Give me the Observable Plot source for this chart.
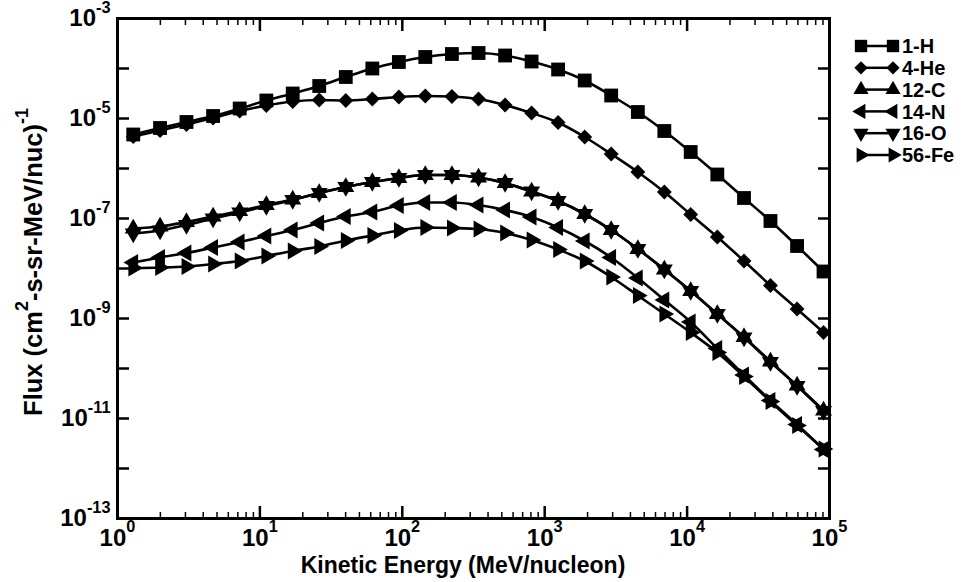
<!DOCTYPE html>
<html><head><meta charset="utf-8">
<script src="https://cdn.jsdelivr.net/npm/d3@7"></script>
<script src="https://cdn.jsdelivr.net/npm/@observablehq/plot@0.6"></script>
<style>
body{margin:0;background:#fff}
#chart{position:relative;width:970px;height:582px}
svg{font-family:"Liberation Sans",Arial,Helvetica,sans-serif}
</style>
</head><body><div id="chart"></div>
<script>
// Kinetic energy grid (MeV/nucleon)
const energy = [1.29, 1.99, 3.05, 4.69, 7.21, 11.1, 17.0, 26.1, 40.1, 61.6, 94.6, 145, 223, 343, 527, 809, 1242, 1910, 2930, 4510, 6920, 10600, 16300, 25100, 38500, 59200, 90800];
const species = ["1-H", "4-He", "12-C", "14-N", "16-O", "56-Fe"];
// log10 of flux
const logH  = [-5.32,-5.19,-5.07,-4.95,-4.80,-4.64,-4.50,-4.35,-4.17,-4.00,-3.87,-3.77,-3.71,-3.69,-3.74,-3.86,-4.02,-4.24,-4.54,-4.87,-5.25,-5.67,-6.12,-6.59,-7.05,-7.55,-8.06];
const logHe = [-5.36,-5.24,-5.12,-4.99,-4.85,-4.74,-4.66,-4.63,-4.64,-4.61,-4.57,-4.55,-4.56,-4.61,-4.73,-4.89,-5.08,-5.37,-5.71,-6.07,-6.47,-6.92,-7.37,-7.85,-8.34,-8.81,-9.28];
const logC  = [-7.20,-7.16,-7.07,-6.96,-6.85,-6.73,-6.62,-6.49,-6.37,-6.27,-6.19,-6.13,-6.13,-6.18,-6.29,-6.46,-6.65,-6.91,-7.23,-7.61,-8.02,-8.45,-8.91,-9.37,-9.86,-10.34,-10.84];
const logN  = [-7.88,-7.78,-7.69,-7.58,-7.47,-7.35,-7.23,-7.09,-6.96,-6.87,-6.74,-6.68,-6.68,-6.73,-6.83,-6.97,-7.18,-7.45,-7.78,-8.19,-8.63,-9.07,-9.60,-10.13,-10.64,-11.12,-11.62];
const logO  = [-7.30,-7.24,-7.13,-7.00,-6.88,-6.75,-6.63,-6.49,-6.37,-6.27,-6.19,-6.13,-6.13,-6.18,-6.29,-6.46,-6.65,-6.91,-7.23,-7.61,-8.02,-8.45,-8.91,-9.38,-9.87,-10.35,-10.85];
const logFe = [-7.99,-7.98,-7.96,-7.91,-7.85,-7.75,-7.65,-7.56,-7.44,-7.34,-7.24,-7.18,-7.19,-7.21,-7.29,-7.43,-7.62,-7.85,-8.17,-8.54,-8.91,-9.28,-9.68,-10.16,-10.66,-11.14,-11.61];
const xTickValues = [1, 10, 100, 1000, 10000, 100000];
const xTickLabels = ["10^0","10^1","10^2","10^3","10^4","10^5"];
const yTickValues = [1e-3,1e-4,1e-5,1e-6,1e-7,1e-8,1e-9,1e-10,1e-11,1e-12,1e-13];
const yLabelValues = [1e-3,1e-5,1e-7,1e-9,1e-11,1e-13];
const yTickLabels = ["10^-3","10^-5","10^-7","10^-9","10^-11","10^-13"];
const xTitle = "Kinetic Energy (MeV/nucleon)";
const yTitle = ["Flux (cm", "2", "-s-sr-MeV/nuc)", "-1"];

const series = [logH, logHe, logC, logN, logO, logFe];
const symbols = [
  {symbol: "square", r: 7.8, rotate: 0},
  {symbol: "diamond2", r: 6.7, rotate: 0},
  {symbol: "triangle", r: 6.3, rotate: 0},
  {symbol: "triangle", r: 6.3, rotate: -90},
  {symbol: "triangle", r: 6.3, rotate: 180},
  {symbol: "triangle", r: 6.3, rotate: 90}
];
const rows = [];
series.forEach((s, j) => s.forEach((v, i) => rows.push({species: species[j], E: energy[i], flux: Math.pow(10, v)})));

const xMinor = [];
for (let d = 1; d < 1e5; d *= 10) for (let m = 2; m <= 9; m++) xMinor.push(d * m);

const fmt = (vals, labels) => d => labels[vals.indexOf(d)];

const marks = [];
species.forEach((sp, j) => {
  const data = rows.filter(r => r.species === sp);
  marks.push(Plot.line(data, {x: "E", y: "flux", stroke: "black", strokeWidth: 2.6, curve: "monotone-x"}));
});
species.forEach((sp, j) => {
  const data = rows.filter(r => r.species === sp);
  const s = symbols[j];
  marks.push(Plot.dot(data, {x: "E", y: "flux", symbol: s.symbol, r: s.r, rotate: s.rotate, fill: "black", stroke: "none"}));
});
// ticks (inward) on all four sides
for (const anchor of ["bottom", "top"]) {
  marks.push(Plot.axisX(xTickValues, {anchor, tickSize: -12, strokeWidth: 2.5, fill: "none", label: null}));
  marks.push(Plot.axisX(xMinor, {anchor, tickSize: -6, strokeWidth: 1.5, fill: "none", label: null}));
}
for (const anchor of ["left", "right"]) {
  marks.push(Plot.axisY(yTickValues, {anchor, tickSize: -12, strokeWidth: 2.5, fill: "none", label: null}));
}
marks.push(Plot.axisX(xTickValues, {anchor: "bottom", tickSize: 0, tickPadding: 10, stroke: "none", tickFormat: fmt(xTickValues, xTickLabels), fontSize: 24, fontWeight: "bold", fill: "black", label: null}));
marks.push(Plot.axisY(yLabelValues, {anchor: "left", tickSize: 0, tickPadding: 7, stroke: "none", tickFormat: fmt(yLabelValues, yTickLabels), fontSize: 24, fontWeight: "bold", fill: "black", label: null}));
marks.push(Plot.frame({stroke: "black", strokeWidth: 3}));

const chart = Plot.plot({
  width: 970, height: 582,
  marginLeft: 117, marginRight: 141, marginTop: 18, marginBottom: 64,
  x: {type: "log", domain: [1, 1e5]},
  y: {type: "log", domain: [1e-13, 1e-3]},
  style: {fontFamily: "'Liberation Sans', Arial, sans-serif", color: "black", background: "white", overflow: "visible"},
  marks
});
document.getElementById("chart").appendChild(chart);

// superscripts in tick labels
chart.querySelectorAll('g[aria-label="x-axis tick label"] text, g[aria-label="y-axis tick label"] text').forEach(t => {
  const [base, exp] = t.textContent.split("^");
  t.textContent = "";
  const ns = "http://www.w3.org/2000/svg";
  const a = document.createElementNS(ns, "tspan"); a.textContent = base; t.appendChild(a);
  const b = document.createElementNS(ns, "tspan"); b.textContent = exp;
  b.setAttribute("font-size", "68%"); b.setAttribute("dy", "-0.8em"); t.appendChild(b);
});

const svg = d3.select(chart);
// x title
svg.append("text").attr("x", 463).attr("y", 573).attr("text-anchor", "middle")
  .attr("font-size", 23).attr("font-weight", "bold").attr("fill", "black").text(xTitle);
// y title
const yt = svg.append("text").attr("transform", "translate(42,262) rotate(-90)").attr("text-anchor", "middle")
  .attr("font-size", 25.5).attr("font-weight", "bold").attr("fill", "black");
yt.append("tspan").text(yTitle[0]);
yt.append("tspan").attr("font-size", "70%").attr("dy", "-0.8em").text(yTitle[1]);
yt.append("tspan").attr("dy", "0.56em").text(yTitle[2]);
yt.append("tspan").attr("font-size", "70%").attr("dy", "-0.8em").text(yTitle[3]);

// legend
const symMap = {square: d3.symbolSquare, diamond2: d3.symbolDiamond2, triangle: d3.symbolTriangle};
const lg = svg.append("g");
species.forEach((sp, j) => {
  const y = 46 + 21.8 * j;
  const s = symbols[j];
  const g = lg.append("g").attr("transform", `translate(0,${y})`);
  g.append("line").attr("x1", 861).attr("x2", 893).attr("stroke", "black").attr("stroke-width", 2.5);
  const path = d3.symbol(symMap[s.symbol], Math.PI * s.r * s.r * 0.8)();
  for (const cx of [861, 893]) g.append("path").attr("d", path).attr("transform", `translate(${cx},0) rotate(${s.rotate})`).attr("fill", "black");
  g.append("text").attr("x", 902).attr("dy", "0.36em").attr("text-anchor", "start").attr("font-size", 20).attr("font-weight", "bold").attr("fill", "black").text(sp);
});
</script></body></html>
